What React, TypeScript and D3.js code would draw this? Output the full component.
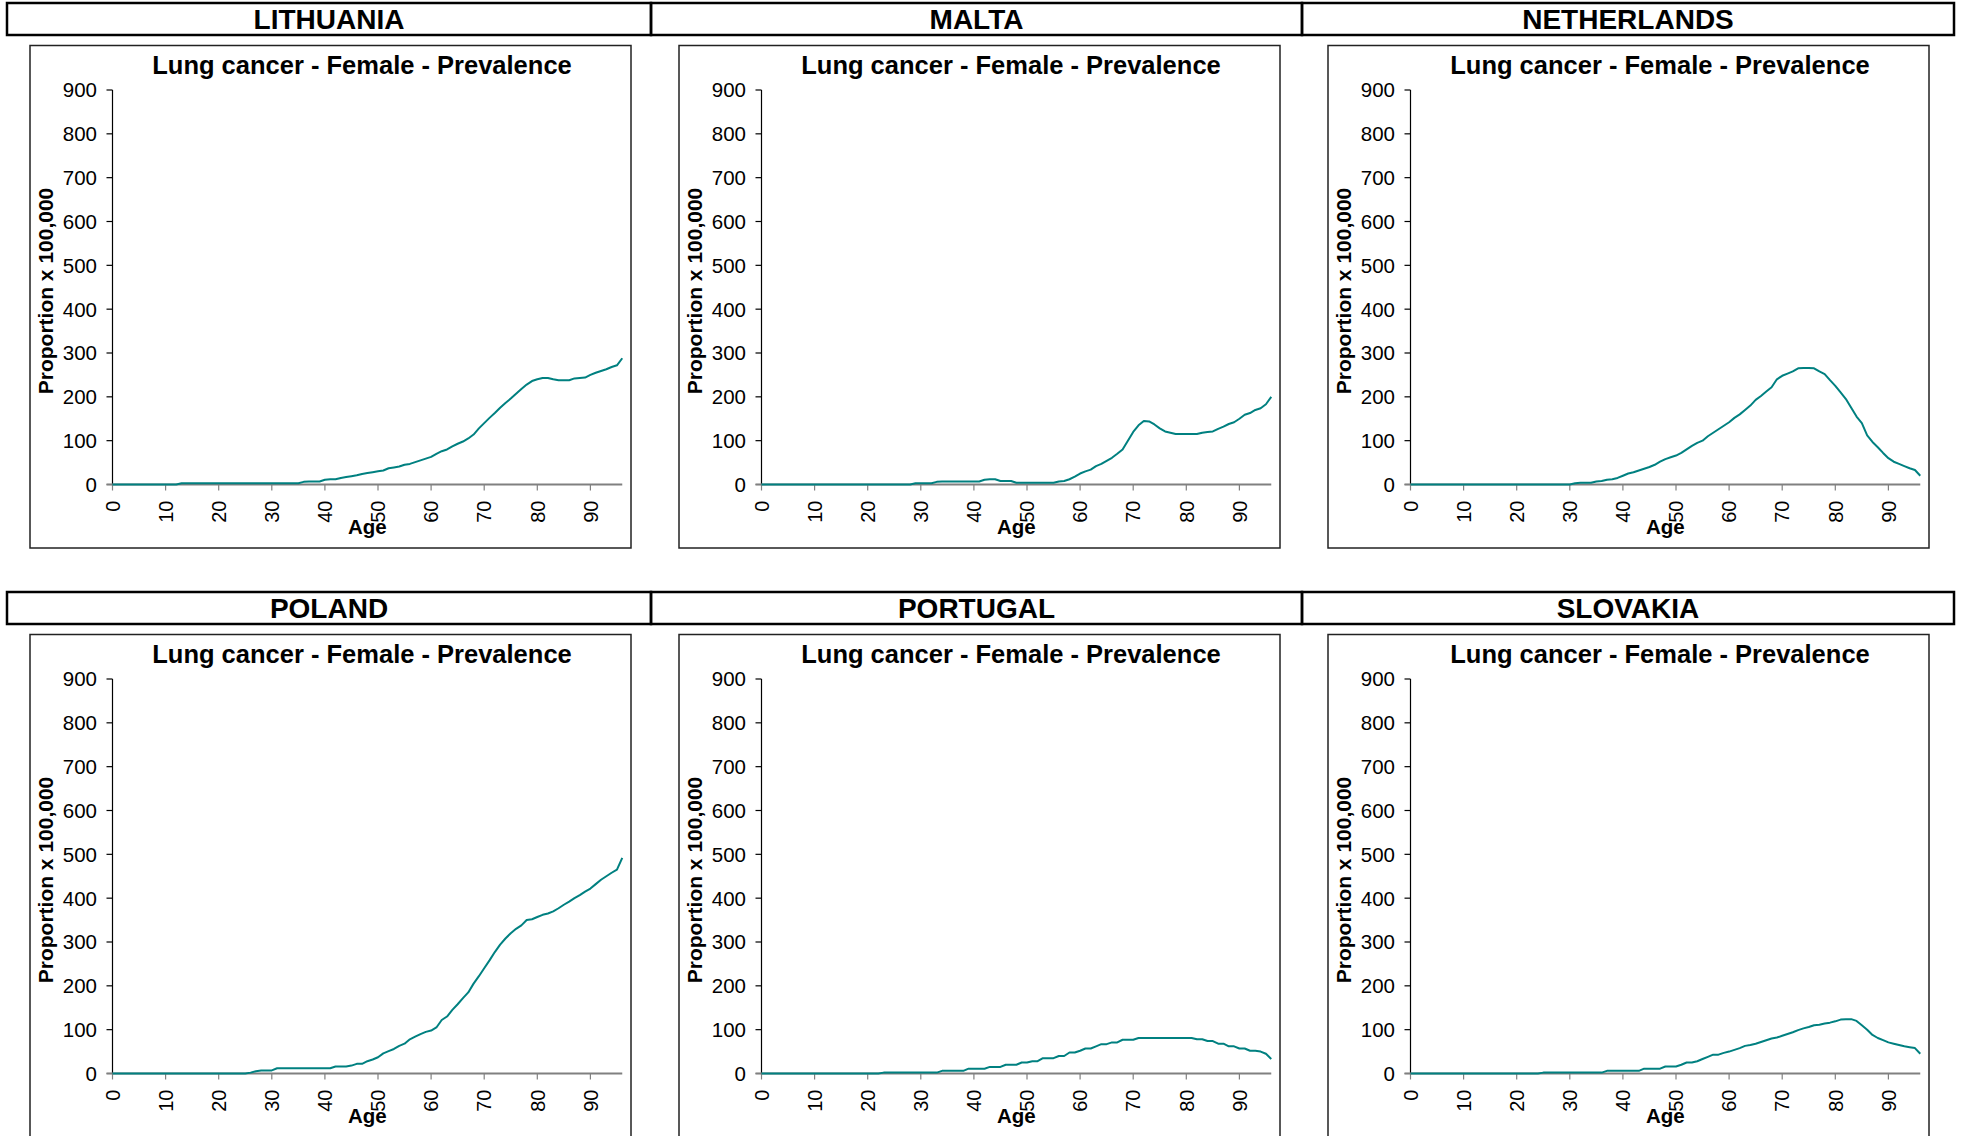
import React from 'react';
import * as d3 from 'd3';

// ---- Data (values per age 0..96, proportion x 100,000) ----
const countries = ['LITHUANIA', 'MALTA', 'NETHERLANDS', 'POLAND', 'PORTUGAL', 'SLOVAKIA'];
const chartTitle = 'Lung cancer - Female - Prevalence';
const yAxisTitle = 'Proportion x 100,000';
const xAxisTitle = 'Age';
const ages = d3.range(0, 97);
const yTicks = [0, 100, 200, 300, 400, 500, 600, 700, 800, 900];
const xTicks = [0, 10, 20, 30, 40, 50, 60, 70, 80, 90];

const lithuania = [
  0, 0, 0, 0, 0, 0, 0, 0, 0, 0,
  0, 0, 0, 3, 3, 3, 3, 3, 3, 3,
  3, 3, 3, 3, 3, 3, 3, 3, 3, 3,
  3, 3, 3, 3, 3, 3, 6, 7, 7, 7,
  11, 12, 12, 15, 17, 19, 21, 24, 26, 28,
  30, 32, 37, 39, 41, 45, 47, 51, 55, 59,
  63, 70, 76, 80, 87, 93, 98, 105, 114, 128,
  140, 152, 163, 175, 186, 196, 207, 218, 228, 236,
  240, 243, 243, 240, 238, 238, 238, 242, 243, 244,
  250, 255, 259, 263, 268, 272, 288,
];
const malta = [
  0, 0, 0, 0, 0, 0, 0, 0, 0, 0,
  0, 0, 0, 0, 0, 0, 0, 0, 0, 0,
  0, 0, 0, 0, 0, 0, 0, 0, 0, 3,
  3, 3, 3, 6, 7, 7, 7, 7, 7, 7,
  7, 7, 11, 12, 12, 8, 8, 8, 4, 4,
  4, 4, 4, 4, 4, 4, 7, 8, 12, 18,
  25, 30, 34, 42, 47, 54, 61, 70, 80, 100,
  120, 135, 145, 144, 137, 128, 121, 118, 115, 115,
  115, 115, 115, 118, 120, 121, 127, 132, 138, 142,
  150, 159, 163, 170, 174, 183, 200,
];
const netherlands = [
  0, 0, 0, 0, 0, 0, 0, 0, 0, 0,
  0, 0, 0, 0, 0, 0, 0, 0, 0, 0,
  0, 0, 0, 0, 0, 0, 0, 0, 0, 0,
  0, 3, 4, 4, 4, 7, 8, 11, 12, 15,
  20, 25, 28, 32, 36, 40, 45, 52, 58, 62,
  66, 72, 80, 88, 95, 100, 110, 118, 126, 134,
  142, 152, 160, 170, 180, 193, 202, 212, 222, 240,
  248, 253, 258, 265, 266, 266, 265, 258, 252, 238,
  225, 210, 195, 175, 155, 140, 112, 97, 85, 72,
  60, 52, 47, 42, 37, 33, 20,
];
const poland = [
  0, 0, 0, 0, 0, 0, 0, 0, 0, 0,
  0, 0, 0, 0, 0, 0, 0, 0, 0, 0,
  0, 0, 0, 0, 0, 0, 2, 5, 7, 7,
  7, 12, 12, 12, 12, 12, 12, 12, 12, 12,
  12, 12, 16, 16, 16, 18, 22, 22, 28, 32,
  37, 46, 51, 56, 63, 68, 78, 84, 90, 95,
  98, 105, 122, 130, 145, 158, 172, 185, 205, 222,
  240, 258, 277, 294, 308, 320, 330, 338, 350, 352,
  357, 362, 365, 370, 377, 385, 392, 400, 407, 415,
  422, 432, 442, 450, 458, 465, 492,
];
const portugal = [
  0, 0, 0, 0, 0, 0, 0, 0, 0, 0,
  0, 0, 0, 0, 0, 0, 0, 0, 0, 0,
  0, 0, 0, 2, 2, 2, 2, 2, 2, 2,
  2, 2, 2, 2, 6, 6, 6, 6, 6, 11,
  11, 11, 11, 15, 15, 15, 20, 20, 20, 25,
  25, 28, 28, 35, 35, 35, 40, 40, 48, 48,
  52, 57, 57, 62, 67, 67, 71, 71, 77, 77,
  77, 81, 81, 81, 81, 81, 81, 81, 81, 81,
  81, 81, 78, 78, 74, 74, 68, 68, 62, 62,
  57, 57, 52, 52, 50, 45, 33,
];
const slovakia = [
  0, 0, 0, 0, 0, 0, 0, 0, 0, 0,
  0, 0, 0, 0, 0, 0, 0, 0, 0, 0,
  0, 0, 0, 0, 0, 2, 2, 2, 2, 2,
  2, 2, 2, 2, 2, 2, 2, 6, 6, 6,
  6, 6, 6, 6, 11, 11, 11, 11, 16, 16,
  16, 20, 25, 25, 28, 33, 38, 43, 43, 47,
  50, 54, 58, 63, 65, 68, 72, 76, 80, 82,
  86, 90, 94, 99, 103, 106, 110, 111, 114, 116,
  119, 123, 124, 124, 120, 110, 100, 88, 81, 76,
  71, 68, 65, 62, 60, 58, 45,
];
const seriesByCountry = [lithuania, malta, netherlands, poland, portugal, slovakia];

// ---- Layout ----
const W = 1961;
const H = 1136;
const FONT = "'Liberation Sans', Arial, Helvetica, sans-serif";
const LINE_COLOR = '#008080';
const headerEdges = [7, 651, 1302, 1954];
const frameLeft = [30, 679, 1328];
const rowOffset = [0, 589];

function Panel({ name, values, col, row }: { name: string; values: number[]; col: number; row: number }) {
  const fx = frameLeft[col];
  const oy = rowOffset[row];
  const x0 = fx + 82.5;
  const x1 = x0 + 96 * 5.31;
  const yTop = oy + 90;
  const yBot = oy + 484.5;
  const xScale = d3.scaleLinear().domain([0, 96]).range([x0, x1]);
  const yScale = d3.scaleLinear().domain([0, 900]).range([yBot, yTop]);
  const lineGen = d3
    .line<number>()
    .x((_, i) => xScale(ages[i]))
    .y((d) => yScale(d));
  const hx0 = headerEdges[col];
  const hx1 = headerEdges[col + 1];
  const plotCenter = (x0 + x1) / 2;

  return (
    <g>
      {/* header box */}
      <rect x={hx0} y={oy + 3} width={hx1 - hx0} height={32} fill="none" stroke="#000" strokeWidth={2.5} />
      <text x={(hx0 + hx1) / 2} y={oy + 28.5} textAnchor="middle" fontFamily={FONT} fontWeight="bold" fontSize={28}>
        {name}
      </text>
      {/* chart frame */}
      <rect x={fx} y={oy + 45.5} width={601} height={502.5} fill="#fff" stroke="#222" strokeWidth={1.5} />
      {/* title */}
      <text x={fx + 332} y={oy + 74} textAnchor="middle" fontFamily={FONT} fontWeight="bold" fontSize={25.5}>
        {chartTitle}
      </text>
      {/* y axis */}
      <line x1={x0} x2={x0} y1={yTop} y2={yBot} stroke="#000" strokeWidth={1.2} />
      {yTicks.map((t) => (
        <g key={'y' + t}>
          <line x1={x0 - 6} x2={x0} y1={yScale(t)} y2={yScale(t)} stroke={t === 0 ? '#808080' : '#000'} strokeWidth={1.2} />
          <text x={x0 - 15.5} y={yScale(t)} dy="0.36em" textAnchor="end" fontFamily={FONT} fontSize={20.5}>
            {t}
          </text>
        </g>
      ))}
      {/* x axis */}
      <line x1={x0 - 6} x2={x1} y1={yBot} y2={yBot} stroke="#808080" strokeWidth={1.8} />
      {xTicks.map((t) => (
        <g key={'x' + t}>
          <line x1={xScale(t)} x2={xScale(t)} y1={yBot} y2={yBot + 6} stroke="#808080" strokeWidth={1.2} />
          <text
            transform={`translate(${xScale(t)},${yBot + 16}) rotate(-90)`}
            dy="0.36em"
            textAnchor="end"
            fontFamily={FONT}
            fontSize={20}
          >
            {t}
          </text>
        </g>
      ))}
      {/* axis titles */}
      <text
        transform={`translate(${fx + 23},${oy + 291}) rotate(-90)`}
        textAnchor="middle"
        fontFamily={FONT}
        fontWeight="bold"
        fontSize={21}
      >
        {yAxisTitle}
      </text>
      <text x={plotCenter} y={oy + 534} textAnchor="middle" fontFamily={FONT} fontWeight="bold" fontSize={20.5}>
        {xAxisTitle}
      </text>
      {/* data line */}
      <path d={lineGen(values) || ''} fill="none" stroke={LINE_COLOR} strokeWidth={2} strokeLinejoin="round" />
    </g>
  );
}

export default function App() {
  return (
    <svg
      width={W}
      height={H}
      viewBox={`0 0 ${W} ${H}`}
      style={{ position: 'absolute', left: 0, top: 0, background: '#fff' }}
    >
      <rect x={0} y={0} width={W} height={H} fill="#fff" />
      {countries.map((c, i) => (
        <Panel key={c} name={c} values={seriesByCountry[i]} col={i % 3} row={Math.floor(i / 3)} />
      ))}
    </svg>
  );
}
